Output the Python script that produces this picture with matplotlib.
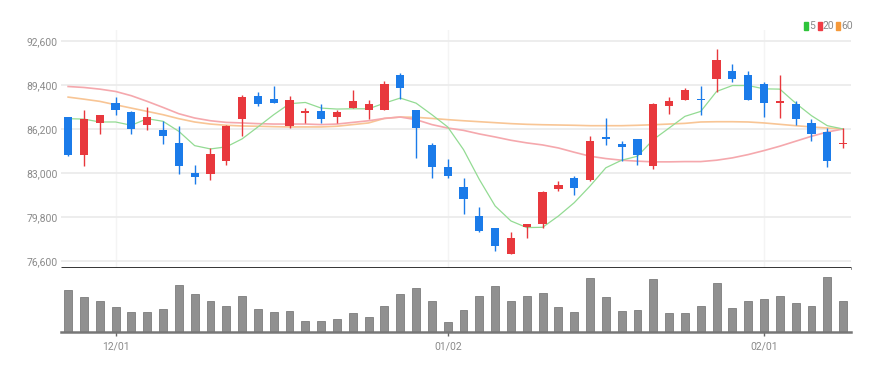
import numpy as np
import matplotlib.pyplot as plt
from matplotlib.patches import Rectangle

# 일봉 데이터
opens = [87050, 84300, 86600, 88100, 87400, 86500, 86100, 85200, 83000, 82900,
         83900, 86900, 88600, 88400, 86400, 87400, 87500, 87100, 87700, 87600,
         87600, 90100, 87600, 85000, 83400, 82000, 79900, 79000, 77100, 79100,
         79300, 81800, 82600, 82500, 85600, 85100, 85500, 83500, 87900, 88300,
         88400, 89800, 90400, 90100, 89500, 88100, 88000, 86600, 86000, 85100]
highs = [87100, 87600, 87200, 88500, 87500, 87800, 86800, 86400, 83600, 84800,
         86500, 88700, 88900, 89300, 88600, 87700, 88000, 87600, 89000, 88300,
         89700, 90300, 87600, 85200, 84000, 82600, 80500, 79000, 78700, 79300,
         81700, 82400, 82800, 85700, 87000, 85300, 85500, 88100, 88500, 89200,
         89300, 92000, 90900, 90400, 89600, 90100, 88200, 86900, 86300, 86300]
lows = [84200, 83500, 85800, 87200, 85800, 86100, 85100, 82900, 82200, 82500,
        83600, 85700, 87900, 88100, 86300, 86600, 86600, 86600, 87700, 86900,
        87600, 88400, 84100, 82600, 82600, 80000, 78700, 77300, 77100, 78300,
        79000, 81700, 81400, 82400, 85000, 83900, 83600, 83300, 87300, 88300,
        87200, 88900, 89600, 88300, 87100, 87000, 86500, 85300, 83400, 84800]
closes = [84300, 86900, 87200, 87600, 86200, 87100, 85700, 83500, 82700, 84400,
          86400, 88500, 88000, 88100, 88300, 87500, 86900, 87400, 88200, 88000,
          89500, 89200, 86300, 83400, 82800, 81100, 78800, 77700, 78300, 79300,
          81600, 82100, 81900, 85300, 85500, 84900, 84300, 88000, 88200, 89000,
          88300, 91200, 89800, 88300, 88100, 88200, 86900, 85800, 83900, 85200]
volumes = [127, 105, 93, 75, 62, 62, 69, 144, 115, 93,
           79, 108, 69, 62, 64, 33, 33, 38, 57, 47,
           78, 114, 133, 93, 29, 67, 110, 140, 94, 110,
           118, 77, 62, 164, 105, 64, 67, 160, 57, 59,
           79, 150, 74, 93, 100, 110, 88, 80, 166, 94]

# 이동평균선
ma5 = [86950, 86920, 86710, 86710, 86470, 86950, 86760, 86030, 84990, 84750,
       84900, 85480, 86350, 87240, 88040, 88130, 87720, 87650, 87670, 87670,
       88080, 88450, 88080, 87240, 86350, 84700, 82530, 80600, 79510, 79030,
       79050, 79870, 80840, 82050, 83380, 83930, 84220, 85430, 86270, 87120,
       87480, 88930, 89360, 89360, 89120, 89100, 88080, 87170, 86440, 86200]
ma20 = [89290, 89220, 89100, 88930, 88620, 88210, 87770, 87310, 87000, 86800,
        86680, 86640, 86590, 86560, 86560, 86560, 86520, 86560, 86680, 86800,
        86970, 87070, 86880, 86520, 86270, 86100, 85840, 85620, 85380, 85190,
        85040, 84820, 84510, 84220, 84050, 83930, 83860, 83810, 83810, 83830,
        83830, 83930, 84100, 84340, 84630, 84950, 85310, 85670, 85980, 86200]
ma60 = [88520, 88370, 88210, 87960, 87720, 87480, 87240, 86950, 86710, 86560,
        86470, 86420, 86400, 86370, 86350, 86350, 86350, 86400, 86520, 86640,
        86970, 87070, 87050, 86970, 86880, 86800, 86730, 86660, 86590, 86540,
        86510, 86490, 86470, 86440, 86440, 86440, 86470, 86510, 86560, 86610,
        86710, 86730, 86730, 86710, 86640, 86540, 86440, 86350, 86270, 86200]

date_ticks = [3, 24, 44]
date_labels = ["12/01", "01/02", "02/01"]
price_ticks = [76600, 79800, 83000, 86200, 89400, 92600]

up_color = "#e8383d"
down_color = "#1b7be9"
label_font = ["Liberation Sans Narrow", "Roboto", "DejaVu Sans"]

if __name__ == "__main__":
    W, H = 887, 373
    fig = plt.figure(figsize=(W / 100, H / 100), dpi=100)
    ax = fig.add_axes([61 / W, 105 / H, 790 / W, 238 / H])
    axv = fig.add_axes([61 / W, 41 / H, 790 / W, 64 / H], sharex=ax)

    x = np.arange(len(opens))
    o = np.array(opens)
    c = np.array(closes)
    colors = [up_color if cc >= oo else down_color for oo, cc in zip(o, c)]

    # 이동평균선
    ax.plot(x, ma60, color="#f8c595", lw=1.2, zorder=2)
    ax.plot(x, ma20, color="#f5a8ad", lw=1.2, zorder=2)
    ax.plot(x, ma5, color="#93db93", lw=0.9, zorder=2)

    # 캔들
    ax.vlines(x, lows, highs, colors=colors, lw=1.0, zorder=3)
    body_h = np.maximum(np.abs(c - o), 120)
    body_b = (o + c) / 2 - body_h / 2
    ax.bar(x, body_h, bottom=body_b, width=0.52, color=colors, zorder=4)

    ax.set_xlim(-0.45, len(opens) - 0.5)
    ax.set_ylim(76090, 93400)
    ax.set_yticks(price_ticks)
    ax.set_yticklabels([f"{p:,}" for p in price_ticks])
    ax.set_xticks(date_ticks)
    ax.tick_params(axis="x", length=0, labelbottom=False)
    ax.tick_params(axis="y", length=0, pad=2.5, labelsize=7.5, labelcolor="#8a8a8a")
    for lab in ax.get_yticklabels():
        lab.set_fontfamily(label_font)
    ax.grid(axis="y", color="#ececec", lw=1.3)
    ax.grid(axis="x", color="#f4f4f4", lw=1.0)
    ax.set_axisbelow(True)
    for s in ["top", "right", "left"]:
        ax.spines[s].set_visible(False)
    ax.spines["bottom"].set_color("#222222")
    ax.spines["bottom"].set_linewidth(2.0)
    ax.spines["bottom"].set_capstyle("butt")

    # 거래량
    axv.bar(x, volumes, width=0.5, color="#909090", edgecolor="#7c7c7c", lw=0.6)
    axv.set_ylim(0, max(volumes) * 1.17)
    axv.set_yticks([])
    axv.set_xticks(date_ticks)
    axv.set_xticklabels(date_labels)
    axv.tick_params(axis="x", length=3, width=1, color="#666666", pad=4,
                    labelsize=7.5, labelcolor="#8a8a8a")
    for lab in axv.get_xticklabels():
        lab.set_fontfamily(label_font)
    for s in ["top", "right", "left"]:
        axv.spines[s].set_visible(False)
    axv.spines["bottom"].set_color("#777777")
    axv.spines["bottom"].set_linewidth(1.8)

    # 범례
    legend_items = [("5", "#2ec43a", 804), ("20", "#f03c44", 818), ("60", "#f5993a", 836)]
    for txt, col, px in legend_items:
        fig.patches.append(Rectangle((px / W, 1 - 30 / H), 4 / W, 8 / H,
                                     transform=fig.transFigure, color=col))
        fig.text((px + 5) / W, 1 - 26 / H, txt, fontsize=7.5, color="#8a8a8a",
                 va="center", ha="left", family=label_font)

    fig.savefig("out.png", dpi=100)
